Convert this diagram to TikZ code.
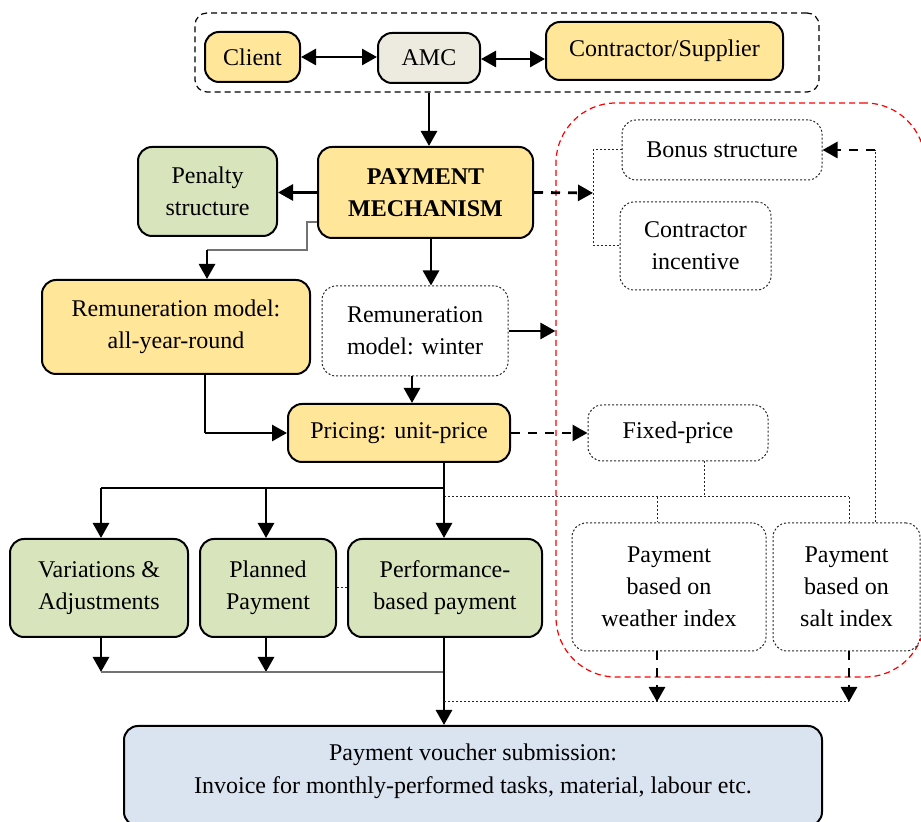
\documentclass[tikz,border=0pt]{standalone}
\usepackage{fontspec}
\setmainfont{Liberation Serif}
\usetikzlibrary{arrows.meta,calc}
\definecolor{ylw}{HTML}{FFE699}
\definecolor{grn}{HTML}{D8E4BC}
\definecolor{amcc}{HTML}{EDEBE0}
\definecolor{blu}{HTML}{DAE3F0}
\begin{document}
\begin{tikzpicture}[x=0.5pt,y=-0.5pt,
  font=\fontsize{12}{16}\selectfont,
  box/.style={draw, line width=1pt, rounded corners=7pt, align=center, inner sep=0pt},
  dbox/.style={draw=black!85, line width=0.5pt, dash pattern=on 1pt off 1pt, rounded corners=7pt, align=center, inner sep=0pt},
  arr/.style={line width=1.4pt, -{Triangle[length=7.5pt,width=8pt]}},
  darr/.style={line width=1.4pt, {Triangle[length=7.5pt,width=8pt]}-{Triangle[length=7.5pt,width=8pt]}},
  dsharr/.style={line width=1.4pt, dash pattern=on 4.5pt off 4pt, -{Triangle[length=7.5pt,width=8pt]}},
  dotl/.style={draw=black!85, line width=0.5pt, dash pattern=on 1pt off 1pt},
  thinl/.style={line width=0.6pt},
  grayl/.style={draw=black!55, line width=0.8pt}]
\useasboundingbox (0,0) rectangle (921,822);

% red dashed group
\node[draw=red, line width=0.6pt, dash pattern=on 3pt off 2pt, rounded corners=30pt,
      minimum width=184.5pt, minimum height=287pt, inner sep=0pt] (red) at (740.5,390) {};

% top group
\node[draw, line width=0.6pt, dash pattern=on 3pt off 2pt, rounded corners=6pt,
      minimum width=312pt, minimum height=39.5pt, inner sep=0pt] (grp) at (507,52.5) {};
\node[box, fill=ylw, minimum width=47.5pt, minimum height=25pt] (client) at (252.5,57) {Client};
\node[box, fill=amcc, minimum width=51pt, minimum height=25pt] (amc) at (429,58) {AMC};
\node[box, fill=ylw, minimum width=118.5pt, minimum height=29pt] (cs) at (664.5,51) {Contractor/Supplier};

% main
\node[box, fill=ylw, minimum width=107.5pt, minimum height=45.5pt, font=\fontsize{12}{16}\selectfont\bfseries] (pm) at (425.5,192.5) {PAYMENT\\MECHANISM};
\node[box, fill=grn, minimum width=69.5pt, minimum height=44.5pt] (pen) at (207.5,191.5) {Penalty\\structure};
\node[dbox, minimum width=100pt, minimum height=30pt] (bonus) at (722,150) {Bonus structure};
\node[dbox, minimum width=75.5pt, minimum height=44pt] (inc) at (695.5,246) {Contractor\\incentive};
\node[box, fill=ylw, minimum width=134pt, minimum height=47pt] (rem1) at (176,327) {Remuneration model:\\all-year-round};
\node[dbox, minimum width=93pt, minimum height=45pt] (rem2) at (415,331) {Remuneration\\model: winter};
\node[box, fill=ylw, minimum width=111pt, minimum height=29pt] (price) at (399,433) {Pricing: unit-price};
\node[dbox, minimum width=90pt, minimum height=28pt] (fixed) at (678,433) {Fixed-price};
\node[box, fill=grn, minimum width=89pt, minimum height=49pt] (var) at (99,588) {Variations \&\\Adjustments};
\node[box, fill=grn, minimum width=68pt, minimum height=49pt] (plan) at (268,588) {Planned\\Payment};
\node[box, fill=grn, minimum width=97pt, minimum height=49pt] (perf) at (445,588) {Performance-\\based payment};
\node[dbox, minimum width=97pt, minimum height=64pt] (weather) at (669,587) {Payment\\based on\\weather index};
\node[dbox, minimum width=73.5pt, minimum height=64pt] (salt) at (846.5,587) {Payment\\based on\\salt index};
\node[box, fill=blu, minimum width=349pt, minimum height=50pt,
      label={[align=center, yshift=2.25pt, font=\fontsize{12}{16.5}\selectfont]center:{Payment voucher submission:\\Invoice for monthly-performed tasks, material, labour etc.}}] (voucher) at (473,776) {};

% helper coordinates
\coordinate (xa) at (431,0);
\coordinate (xb) at (412,0);
\coordinate (xc) at (205,0);
\coordinate (xe) at (444,0);
\coordinate (xf) at (875,0);
\coordinate (brk) at (593,193);
\coordinate (k1) at (307,222);
\coordinate (k2) at (307,250);
\coordinate (k3) at (207,250);
\coordinate (h1) at (444,488);
\coordinate (v1) at (101,488);
\coordinate (p1) at (266,488);
\coordinate (v2) at (101,672);
\coordinate (p2) at (266,672);
\coordinate (e2) at (444,672);
\coordinate (d1) at (444,497);
\coordinate (fx) at (704,497);
\coordinate (w1) at (657,497);
\coordinate (s1) at (849,497);
\coordinate (w2) at (657,702);
\coordinate (s2) at (849,702);
\coordinate (e3) at (444,702);

% top arrows
\draw[darr] (client.east |- 0,57) -- (amc.west |- 0,57);
\draw[darr] (amc.east |- 0,59) -- (cs.west |- 0,59);
\draw[arr] (grp.south -| amc.south) -- (pm.north -| amc.south);

% payment mechanism
\draw[arr] (pm.west) -- (pm.west -| pen.east);
\draw[dsharr] (pm.east) -- (brk);
\draw[dotl] (bonus.west) -| (brk) |- (inc.west);
\draw[grayl] (pm.west |- k1) -- (k1) -- (k2) -- (k3);
\draw[arr] (k3) -- (rem1.north -| k3);
\draw[arr] (pm.south -| xa) -- (rem2.north -| xa);

% remuneration
\draw[arr] (rem2.east) -- (rem2.east -| red.west);
\draw[arr] (rem2.south -| xb) -- (price.north -| xb);
\draw[thinl] (rem1.south -| xc) -- (price.west -| xc);
\draw[arr] (price.west -| xc) -- (price.west);

% pricing
\draw[dsharr] (price.east) -- (fixed.west);
\draw[dotl] (fixed.south -| fx) -- (fx);
\draw[dotl] (d1) -- (s1);
\draw[dotl] (w1) -- (weather.north -| w1);
\draw[dotl] (s1) -- (salt.north -| s1);
\draw[arr] (price.south -| xe) -- (perf.north -| xe);
\draw[thinl] (h1) -- (v1);
\draw[arr] (v1) -- (var.north -| v1);
\draw[arr] (p1) -- (plan.north -| p1);
\draw[dotl] (plan.east) -- (perf.west);

% bottom
\draw[arr] (var.south -| v2) -- (v2);
\draw[arr] (plan.south -| p2) -- (p2);
\draw[grayl] (v2) -- (e2);
\draw[arr] (perf.south -| xe) -- (voucher.north -| xe);
\draw[dotl] (e3) -- (s2);
\draw[dsharr] (weather.south -| w2) -- (w2);
\draw[dsharr] (salt.south -| s2) -- (s2);

% salt -> bonus
\draw[dotl] (salt.north -| xf) -- (bonus.east -| xf);
\draw[dsharr] (bonus.east -| xf) -- (bonus.east);
\end{tikzpicture}
\end{document}
